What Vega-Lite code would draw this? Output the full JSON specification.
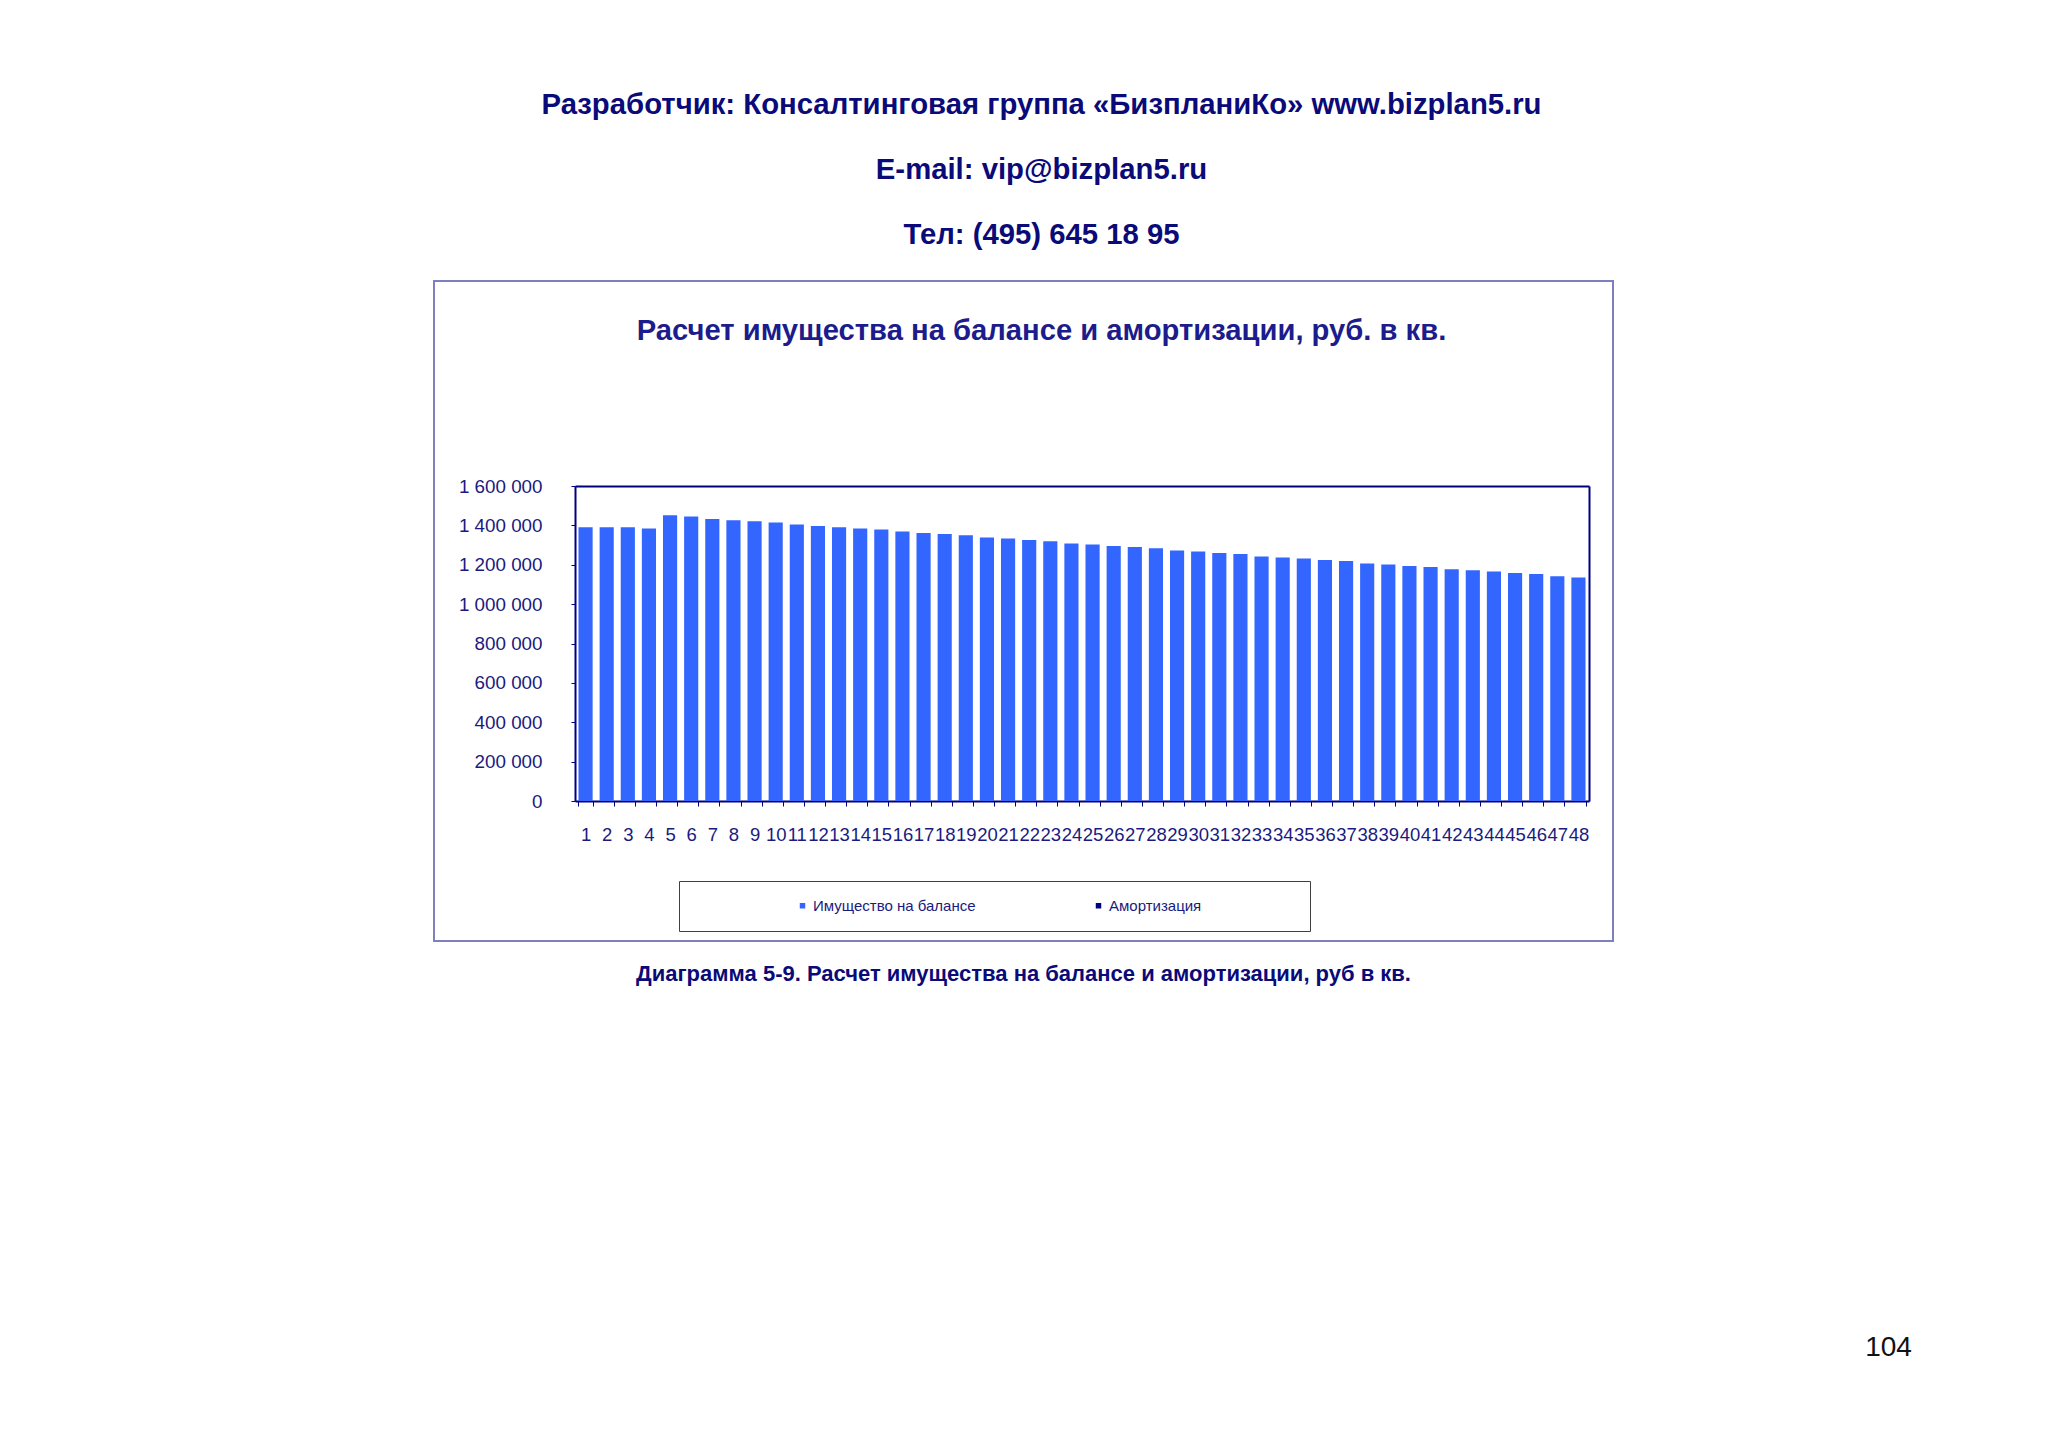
{
  "$schema": "https://vega.github.io/schema/vega-lite/v6.json",
  "width": 1179,
  "height": 660,
  "autosize": "none",
  "padding": {"left": 434, "top": 281, "right": 435, "bottom": 507},
  "background": "white",
  "title": {
    "text": [
      "Разработчик: Консалтинговая группа «БизпланиКо» www.bizplan5.ru",
      "E-mail: vip@bizplan5.ru",
      "Тел: (495) 645 18 95"
    ],
    "subtitle": "Расчет имущества на балансе и амортизации, руб. в кв.",
    "anchor": "middle",
    "dx": 18,
    "offset": -65,
    "font": "Liberation Sans",
    "fontSize": 29.3,
    "fontWeight": "bold",
    "color": "#0a0a78",
    "lineHeight": 65,
    "subtitleFont": "Liberation Sans",
    "subtitleFontSize": 29.2,
    "subtitleFontWeight": "bold",
    "subtitleColor": "#1c1c8c",
    "subtitlePadding": 67
  },
  "data": {
    "values": [
      {"q": 1, "v": 1390000, "s": "Имущество на балансе"},
      {"q": 2, "v": 1390000, "s": "Имущество на балансе"},
      {"q": 3, "v": 1390000, "s": "Имущество на балансе"},
      {"q": 4, "v": 1383600, "s": "Имущество на балансе"},
      {"q": 5, "v": 1451000, "s": "Имущество на балансе"},
      {"q": 6, "v": 1444600, "s": "Имущество на балансе"},
      {"q": 7, "v": 1432400, "s": "Имущество на балансе"},
      {"q": 8, "v": 1425800, "s": "Имущество на балансе"},
      {"q": 9, "v": 1420700, "s": "Имущество на балансе"},
      {"q": 10, "v": 1414100, "s": "Имущество на балансе"},
      {"q": 11, "v": 1404000, "s": "Имущество на балансе"},
      {"q": 12, "v": 1396800, "s": "Имущество на балансе"},
      {"q": 13, "v": 1390200, "s": "Имущество на балансе"},
      {"q": 14, "v": 1383600, "s": "Имущество на балансе"},
      {"q": 15, "v": 1378500, "s": "Имущество на балансе"},
      {"q": 16, "v": 1368400, "s": "Имущество на балансе"},
      {"q": 17, "v": 1361300, "s": "Имущество на балансе"},
      {"q": 18, "v": 1356200, "s": "Имущество на балансе"},
      {"q": 19, "v": 1349600, "s": "Имущество на балансе"},
      {"q": 20, "v": 1337900, "s": "Имущество на балансе"},
      {"q": 21, "v": 1332800, "s": "Имущество на балансе"},
      {"q": 22, "v": 1325700, "s": "Имущество на балансе"},
      {"q": 23, "v": 1319100, "s": "Имущество на балансе"},
      {"q": 24, "v": 1307400, "s": "Имущество на балансе"},
      {"q": 25, "v": 1302400, "s": "Имущество на балансе"},
      {"q": 26, "v": 1295200, "s": "Имущество на балансе"},
      {"q": 27, "v": 1290100, "s": "Имущество на балансе"},
      {"q": 28, "v": 1283600, "s": "Имущество на балансе"},
      {"q": 29, "v": 1271900, "s": "Имущество на балансе"},
      {"q": 30, "v": 1266800, "s": "Имущество на балансе"},
      {"q": 31, "v": 1259700, "s": "Имущество на балансе"},
      {"q": 32, "v": 1254600, "s": "Имущество на балансе"},
      {"q": 33, "v": 1241400, "s": "Имущество на балансе"},
      {"q": 34, "v": 1236300, "s": "Имущество на балансе"},
      {"q": 35, "v": 1231200, "s": "Имущество на балансе"},
      {"q": 36, "v": 1224100, "s": "Имущество на балансе"},
      {"q": 37, "v": 1219100, "s": "Имущество на балансе"},
      {"q": 38, "v": 1205800, "s": "Имущество на балансе"},
      {"q": 39, "v": 1200800, "s": "Имущество на балансе"},
      {"q": 40, "v": 1193600, "s": "Имущество на балансе"},
      {"q": 41, "v": 1188600, "s": "Имущество на балансе"},
      {"q": 42, "v": 1176900, "s": "Имущество на балансе"},
      {"q": 43, "v": 1171800, "s": "Имущество на балансе"},
      {"q": 44, "v": 1165200, "s": "Имущество на балансе"},
      {"q": 45, "v": 1158100, "s": "Имущество на балансе"},
      {"q": 46, "v": 1153000, "s": "Имущество на балансе"},
      {"q": 47, "v": 1141400, "s": "Имущество на балансе"},
      {"q": 48, "v": 1134700, "s": "Имущество на балансе"}
    ]
  },
  "layer": [
    {
      "mark": {"type": "bar"},
      "encoding": {
        "x": {
          "field": "q",
          "type": "ordinal",
          "scale": {"range": [141, 1155], "paddingInner": 0.33, "paddingOuter": 0.165},
          "axis": {
            "orient": "bottom",
            "offset": -140,
            "domainColor": "#000080",
            "domainWidth": 2,
            "tickColor": "#000080",
            "tickSize": 5,
            "tickBand": "extent",
            "labelAngle": 0,
            "labelOverlap": false,
            "labelFlush": false,
            "labelFont": "Liberation Sans",
            "labelFontSize": 18.5,
            "labelColor": "#1a1a80",
            "labelPadding": 19,
            "title": "Диаграмма 5-9. Расчет имущества на балансе и амортизации, руб в кв.",
            "titleFont": "Liberation Sans",
            "titleFontSize": 22,
            "titleFontWeight": "bold",
            "titleColor": "#0a0a78",
            "titleX": 589,
            "titleY": 172,
            "titleAlign": "center",
            "titleBaseline": "middle",
            "titleAngle": 0
          }
        },
        "y": {
          "field": "v",
          "type": "quantitative",
          "scale": {"domain": [0, 1600000], "range": [520, 205], "nice": false},
          "axis": {
            "orient": "left",
            "offset": -141,
            "values": [0, 200000, 400000, 600000, 800000, 1000000, 1200000, 1400000, 1600000],
            "format": ",d",
            "grid": false,
            "domainColor": "#000080",
            "domainWidth": 2,
            "tickColor": "#000080",
            "tickSize": 4,
            "labelFont": "Liberation Sans",
            "labelFontSize": 18.8,
            "labelColor": "#1a1a80",
            "labelPadding": 29,
            "title": null
          }
        },
        "color": {
          "field": "s",
          "type": "nominal",
          "scale": {
            "domain": ["Имущество на балансе", "Амортизация"],
            "range": ["#3366ff", "#000080"]
          },
          "legend": {
            "orient": "none",
            "legendX": 245,
            "legendY": 600,
            "direction": "horizontal",
            "strokeColor": "#404040",
            "fillColor": "white",
            "padding": 17,
            "symbolType": "square",
            "symbolSize": 30,
            "symbolStrokeWidth": 0,
            "symbolOffset": 99,
            "columnPadding": 16,
            "labelOffset": 3,
            "labelLimit": 400,
            "labelFont": "Liberation Sans",
            "labelFontSize": 15,
            "labelColor": "#1a1a80",
            "title": "\u00a0",
            "titleOrient": "right",
            "titlePadding": 92
          }
        }
      }
    },
    {
      "mark": {"type": "bar", "opacity": 0},
      "encoding": {
        "x": {
          "field": "q",
          "type": "ordinal",
          "axis": {
            "orient": "top",
            "offset": -205,
            "domainColor": "#000080",
            "domainWidth": 2,
            "ticks": false,
            "labels": false,
            "title": null
          }
        },
        "y": {
          "field": "v",
          "type": "quantitative",
          "axis": {
            "orient": "right",
            "offset": -24,
            "grid": false,
            "domainColor": "#000080",
            "domainWidth": 2,
            "ticks": false,
            "labels": false,
            "title": "104",
            "titleFont": "Liberation Sans",
            "titleFontSize": 28,
            "titleFontWeight": "normal",
            "titleColor": "#111111",
            "titleAngle": 0,
            "titleX": 299,
            "titleY": 1066,
            "titleAlign": "center",
            "titleBaseline": "middle"
          }
        }
      }
    }
  ],
  "resolve": {"axis": {"x": "independent", "y": "independent"}},
  "config": {
    "locale": {
      "number": {"decimal": ",", "thousands": " ", "grouping": [3], "currency": ["", ""]}
    },
    "view": {"stroke": "#7f7fc0", "strokeWidth": 2},
    "axis": {"grid": false}
  }
}
